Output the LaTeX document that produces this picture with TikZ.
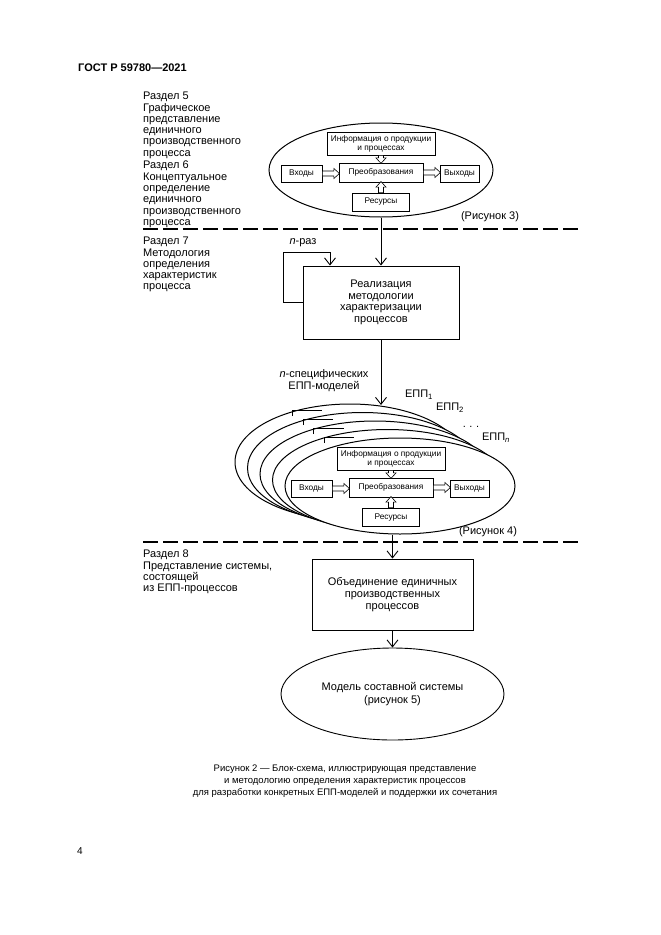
\documentclass[tikz,border=0pt]{standalone}
\usepackage{fontspec}
\setmainfont{Liberation Sans}
\usetikzlibrary{arrows.meta,positioning,shapes.geometric}

\tikzset{
  part/.style={anchor=north west, align=left, inner sep=0pt, font=\fontsize{11}{11.3}\selectfont},
  stage/.style={draw, line width=0.9pt, align=center, inner sep=0pt, font=\fontsize{11}{11.6}\selectfont},
  unitbox/.style={draw, line width=0.8pt, fill=white, align=center, inner sep=0pt, font=\fontsize{8.3}{9.2}\selectfont},
  pics/blockarrow/.style={code={
    \draw[line width=0.6pt, fill=white] (0pt,-2.5pt) -- (#1-5.5pt,-2.5pt) -- (#1-5.5pt,-5pt) -- (#1,0pt)
      -- (#1-5.5pt,5pt) -- (#1-5.5pt,2.5pt) -- (0pt,2.5pt) -- cycle;}},
  flow/.style={line width=0.9pt, -{Straight Barb[length=7pt, width=11pt]}},
  sep/.style={line width=1.1pt, dash pattern=on 15pt off 5pt},
  oval/.style={draw, ellipse, line width=1pt, inner sep=0pt, fill=white},
  lab/.style={inner sep=0pt, font=\fontsize{11}{12}\selectfont}
}

% one unit process: boxes and hollow arrows
\newcommand{\eppunit}[1]{%
  \node[unitbox, minimum width=108pt, minimum height=23pt] (#1info) at (381,143.5) {Информация о продукции\\и процессах};
  \node[unitbox, minimum width=84pt, minimum height=19pt] (#1proc) at (381,172.5) {Преобразования};
  \node[unitbox, minimum width=41pt, minimum height=17pt] (#1in) at (301.5,173.5) {Входы};
  \node[unitbox, minimum width=39pt, minimum height=17pt] (#1out) at (459.5,173.5) {Выходы};
  \node[unitbox, minimum width=57pt, minimum height=18pt] (#1res) at (381,202) {Ресурсы};
  \pic at (#1in.east) {blockarrow=17pt};
  \pic at (#1proc.east) {blockarrow=17pt};
  \pic[rotate=-90] at (#1info.south) {blockarrow=8pt};
  \pic[rotate=90] at (#1res.north) {blockarrow=11pt};
}

\begin{document}
\begin{tikzpicture}[x=1pt, y=-1pt]
  \useasboundingbox (0,0) rectangle (661,935);

  \node[anchor=west, inner sep=0pt, font=\fontsize{11}{12}\selectfont\bfseries] (gost) at (78,68) {ГОСТ Р 59780—2021};
  \node[inner sep=0pt, font=\fontsize{10}{12}\selectfont] (page) at (80,851) {4};

  % left column
  \node[part] (s5) at (143,92) {Раздел 5\\Графическое\\представление\\единичного\\производственного\\процесса};
  \node[part] (s6) at (143,161) {Раздел 6\\Концептуальное\\определение\\единичного\\производственного\\процесса};
  \node[part] (s7) at (143,237) {Раздел 7\\Методология\\определения\\характеристик\\процесса};
  \node[part] (s8) at (143,550) {Раздел 8\\Представление системы,\\состоящей\\из ЕПП-процессов};

  \draw[sep] (143,229) -- (580,229);
  \draw[sep] (143,542) -- (580,542);

  % sections 5 and 6
  \node[oval, minimum width=224pt, minimum height=94pt] (unit) at (381,170) {};
  \eppunit{a}
  \node[lab] (fig3) at (490,217) {(Рисунок 3)};

  % section 7
  \node[stage, minimum width=156pt, minimum height=73pt] (real) at (381,302.5) {Реализация\\методологии\\характеризации\\процессов};
  \draw[flow] (unit) -- (real);
  \coordinate (looptop) at (330,252);
  \draw[flow] (real.west) -- ++(-19,0) |- (looptop) -- (looptop |- real.north);
  \node[lab] (times) at (303,243) {\textit{n}-раз};

  \foreach \k in {4,3,2,1}{
    \draw[line width=1pt, fill=white] ({400-12.5*\k},{486-6*\k}) ellipse [x radius=115pt, y radius={48pt+2.5pt*\k}];
    \draw[line width=0.8pt] ({335-10.7*\k},{452-9*\k}) -- ({335-10.7*\k},{446-9*\k}) -- ({365-10.7*\k},{446-9*\k});
  }
  \node[oval, minimum width=230pt, minimum height=96pt] (front) at (400,486) {};
  \begin{scope}[shift={(10,315)}]
    \eppunit{b}
  \end{scope}
  \coordinate (stacktop) at (381,405);
  \draw[flow] (real) -- (stacktop);
  \node[lab, align=center] (nspec) at (324,381) {\textit{n}-специфических\\ЕПП-моделей};
  \node[lab] (e1) at (419,395) {ЕПП\textsubscript{1}};
  \node[lab] (e2) at (450,408) {ЕПП\textsubscript{2}};
  \node[lab] (edots) at (471,427) {.\,\,.\,\,.};
  \node[lab] (en) at (496,438) {ЕПП\textsubscript{\textit{n}}};
  \node[lab] (fig4) at (488,532) {(Рисунок 4)};

  % section 8
  \node[stage, minimum width=161pt, minimum height=71pt] (union) at (392.5,594.5) {Объединение единичных\\производственных\\процессов};
  \draw[flow] (front.south -| union.north) -- (union);
  \node[oval, line width=0.9pt, minimum width=223pt, minimum height=92pt, align=center, font=\fontsize{11}{12.5}\selectfont] (model) at (392.5,694) {Модель составной системы\\(рисунок 5)};
  \draw[flow] (union) -- (model);

  \node[align=center, inner sep=0pt, font=\fontsize{9.5}{12}\selectfont] (caption) at (345,781) {Рисунок 2 — Блок-схема, иллюстрирующая представление\\и методологию определения характеристик процессов\\для разработки конкретных ЕПП-моделей и поддержки их сочетания};
\end{tikzpicture}
\end{document}
